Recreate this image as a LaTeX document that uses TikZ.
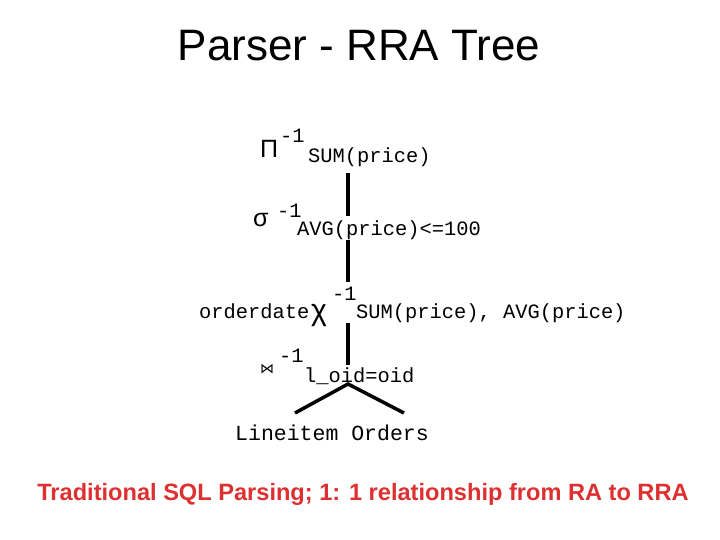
\documentclass[tikz,border=0pt]{standalone}
\usepackage{fontspec}
\setmainfont{Liberation Sans}
\newfontfamily\monof{Liberation Mono}
\newfontfamily\symf{DejaVu Sans}
\definecolor{redtxt}{RGB}{222,48,48}
\begin{document}
\begin{tikzpicture}[x=1pt,y=-1pt,
  mono/.style={font=\monof\fontsize{20.4}{22}\selectfont,inner sep=0pt,anchor=base west},
  sym/.style={font=\fontsize{25}{28}\selectfont,inner sep=0pt,anchor=base west},
  edge/.style={line width=3.5pt}]
\useasboundingbox (0,0) rectangle (720,540);
\node[font=\fontsize{44}{48}\selectfont,anchor=base] (title) at (359,61) {Parser - RRA Tree};
\node[sym] (pi) at (260,158) {Π};
\node[mono] (pisup) at (280,143) {-1};
\node[mono] (pisub) at (308,163) {SUM(price)};
\node[sym] (sig) at (253,226) {σ};
\node[mono] (sigsup) at (277,218) {-1};
\node[mono] (sigsub) at (297,236) {AVG(price)<=100};
\node[mono] (od) at (199,318) {orderdate};
\node[sym,font=\fontsize{30}{32}\selectfont] (chi) at (311,320) {χ};
\node[mono] (chisup) at (332,300) {-1};
\node[mono] (chisub) at (356,318) {SUM(price), AVG(price)};
\node[font=\symf\fontsize{14}{16}\selectfont,inner sep=0pt,anchor=base west] (join) at (260,373) {⋈};
\node[mono] (joinsup) at (279,362) {-1};
\node[mono] (joinsub) at (304,382) {l\_oid=oid};
\node[mono,font=\monof\fontsize{21.5}{24}\selectfont] (leaves) at (235,440) {Lineitem Orders};
\coordinate (a1) at (348,173); \coordinate (a2) at (348,216);
\coordinate (b1) at (348,240); \coordinate (b2) at (348,282);
\coordinate (c1) at (348,323); \coordinate (c2) at (348,365);
\coordinate (j) at (348,384); \coordinate (l) at (295,413); \coordinate (r) at (404,413);
\draw[edge] (a1) -- (a2);
\draw[edge] (b1) -- (b2);
\draw[edge] (c1) -- (c2);
\draw[edge] (l) -- (j) -- (r);
\node[font=\bfseries\fontsize{23.6}{26}\selectfont,text=redtxt,anchor=base] (foot) at (363,500) {Traditional SQL Parsing; 1: 1 relationship from RA to RRA};
\end{tikzpicture}
\end{document}
